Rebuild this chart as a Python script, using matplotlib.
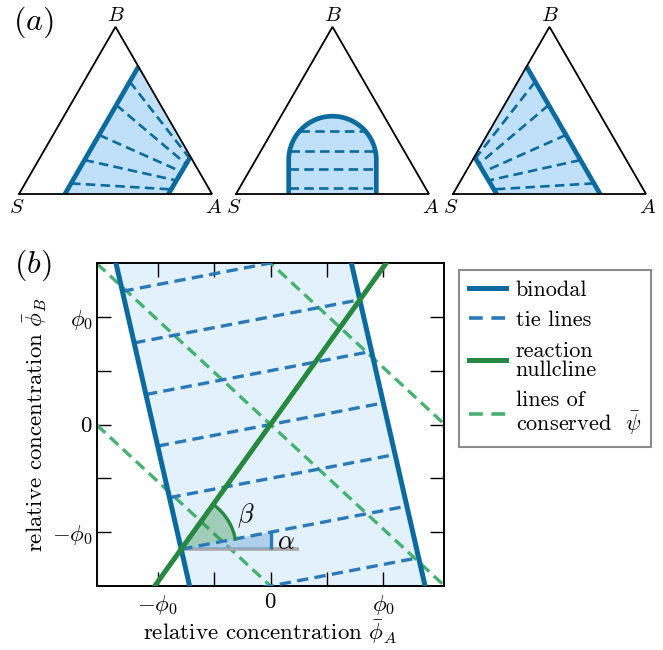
import numpy as np
import matplotlib
matplotlib.use("Agg")
import matplotlib.pyplot as plt
from matplotlib.lines import Line2D
from matplotlib.patches import Polygon

plt.rcParams.update({
    "font.family": "serif",
    "font.serif": ["cmr10"],
    "mathtext.fontset": "cm",
    "axes.unicode_minus": False,
    "axes.formatter.use_mathtext": True,
})

# ---------------- colours ----------------
C_BINODAL = "#0b6a9e"
C_TIE = "#2a79b8"
C_NULL = "#27893f"
C_PSI = "#46b271"
C_FILL_A = "#c0e0fa"
C_FILL_B = "#e3f1fc"

# ---------------- panel (a): ternary sketches ----------------
# binodal branches: (u on base, v where the branch meets the triangle's right edge)
tri1_left_branch = (0.238, 0.66)
tri1_right_branch = (0.774, 0.193)
# heights (v) of tie-line end points on each branch
tri1_tie_vL = [0.055, 0.176, 0.306, 0.461, 0.582]
tri1_tie_vR = [0.024, 0.070, 0.115, 0.155, 0.185]

# dome-shaped binodal in the middle sketch
dome_center = 0.5
dome_halfwidth = 0.227
dome_wall = 0.176
dome_ties = [0.03, 0.128, 0.223, 0.326]

# ---------------- panel (b): linearised phase diagram ----------------
binodal_offset = 1.045      # x-intercept of the two binodals
binodal_tilt = 0.218        # dx/dy of the binodals
tie_slope = 0.20            # tan(alpha)
tie_intercepts = [-1.5, -1.0, -0.5, 0.0, 0.5, 1.0, 1.5]
null_slope = 1.46           # reaction nullcline through the origin
psi_slope = -0.97
psi_intercepts = [-1.5, 0.0, 1.5]
tick_vals = [-1.0, -0.5, 0.0, 0.5, 1.0]
tick_text = [r"$-\phi_0$", "", r"$0$", "", r"$\phi_0$"]
XLIM = (-1.54, 1.54)
YLIM = (-1.5, 1.5)

FS = 16.5
W, H = 663, 650
fig = plt.figure(figsize=(W / 100, H / 100), dpi=100)

SIDE = 193.0
BASE_Y = H - 194.0
SQ3 = np.sqrt(3.0)
TRI_DASH = (0, (3.6, 2.0))
B_DASH = (0, (3.4, 1.9))


def right_edge(v):
    return (1 - v / SQ3, v)


def tri_axes(s_x):
    ax = fig.add_axes([(s_x - 0.05 * SIDE) / W, (BASE_Y - 0.05 * SIDE) / H,
                       1.1 * SIDE / W, 0.95 * SIDE / H])
    ax.set_xlim(-0.05, 1.05)
    ax.set_ylim(-0.05, 0.9)
    ax.axis("off")
    return ax


def draw_frame(ax):
    ax.plot([0, 1, 0.5, 0], [0, 0, SQ3 / 2, 0], color="black", lw=1.3,
            zorder=5, solid_joinstyle="miter")
    kw = dict(fontsize=15, ha="center", va="center")
    ax.text(-0.01, -0.075, r"$S$", **kw)
    ax.text(1.01, -0.075, r"$A$", **kw)
    ax.text(0.5, SQ3 / 2 + 0.055, r"$B$", **kw)


def on_branch(p0, p1, v):
    f = v / p1[1]
    return (p0[0] + (p1[0] - p0[0]) * f, v)


def fan_diagram(ax, left_branch, right_branch, vL, vR, mirror=False):
    m = (lambda p: (1 - p[0], p[1])) if mirror else (lambda p: p)
    a0 = (left_branch[0], 0.0)
    a1 = right_edge(left_branch[1])
    b0 = (right_branch[0], 0.0)
    b1 = right_edge(right_branch[1])
    poly = [m(a0), m(a1), m(b1), m(b0)]
    ax.add_patch(Polygon(poly, closed=True, facecolor=C_FILL_A,
                         edgecolor="none", zorder=1))
    for p, q in [(a0, a1), (b0, b1)]:
        p, q = m(p), m(q)
        ax.plot([p[0], q[0]], [p[1], q[1]], color=C_BINODAL, lw=3.4,
                solid_capstyle="butt", zorder=4)
    for vl, vr in zip(vL, vR):
        p = m(on_branch(a0, a1, vl))
        q = m(on_branch(b0, b1, vr))
        ax.plot([p[0], q[0]], [p[1], q[1]], color=C_BINODAL, lw=1.9,
                ls=TRI_DASH, zorder=3)


ax1 = tri_axes(19)
draw_frame(ax1)
fan_diagram(ax1, tri1_left_branch, tri1_right_branch, tri1_tie_vL, tri1_tie_vR)

ax3 = tri_axes(453)
draw_frame(ax3)
fan_diagram(ax3, tri1_left_branch, tri1_right_branch, tri1_tie_vL, tri1_tie_vR,
            mirror=True)

ax2 = tri_axes(236)
draw_frame(ax2)
th = np.linspace(np.pi, 0, 100)
dome_u = np.concatenate([[dome_center - dome_halfwidth],
                         dome_center + dome_halfwidth * np.cos(th),
                         [dome_center + dome_halfwidth]])
dome_v = np.concatenate([[0.0], dome_wall + dome_halfwidth * np.sin(th), [0.0]])
ax2.fill(dome_u, dome_v, color=C_FILL_A, zorder=1)
ax2.plot(dome_u, dome_v, color=C_BINODAL, lw=3.4, zorder=4,
         solid_capstyle="butt")
for v in dome_ties:
    if v <= dome_wall:
        hw = dome_halfwidth
    else:
        hw = np.sqrt(dome_halfwidth ** 2 - (v - dome_wall) ** 2)
    ax2.plot([dome_center - hw, dome_center + hw], [v, v], color=C_BINODAL,
             lw=1.9, ls=TRI_DASH, zorder=3)

fig.text(33 / W, 1 - 22 / H, r"$(a)$", fontsize=23, ha="center", va="center")
fig.text(33 / W, 1 - 265 / H, r"$(b)$", fontsize=23, ha="center", va="center")

# ---------------- panel (b) ----------------
ax = fig.add_axes([97 / W, (H - 586) / H, (444 - 97) / W, (586 - 263) / H])
ax.set_xlim(*XLIM)
ax.set_ylim(*YLIM)


def binodal_x(y, side):
    return side * binodal_offset - binodal_tilt * y


yy = np.linspace(YLIM[0], YLIM[1], 50)
ax.fill_betweenx(yy, binodal_x(yy, -1), binodal_x(yy, 1), color=C_FILL_B,
                 lw=0, zorder=0)

xx = np.linspace(XLIM[0], XLIM[1], 50)
for b in psi_intercepts:
    ax.plot(xx, b + psi_slope * xx, color=C_PSI, lw=2.4, ls=B_DASH, zorder=2)

for b in tie_intercepts:
    xs = np.array([(s * binodal_offset - binodal_tilt * b)
                   / (1 + binodal_tilt * tie_slope) for s in (-1, 1)])
    ax.plot(xs, b + tie_slope * xs, color=C_TIE, lw=2.4, ls=B_DASH, zorder=3)

for s in (-1, 1):
    ax.plot(binodal_x(yy, s), yy, color=C_BINODAL, lw=3.6, zorder=4)

ax.plot(xx, null_slope * xx, color=C_NULL, lw=3.6, zorder=5)

# angle annotations at the lower-left junction
b0 = -1.0
x0 = (-binodal_offset - binodal_tilt * b0) / (1 + binodal_tilt * tie_slope)
y0 = b0 + tie_slope * x0
ax.plot([x0, 0.25], [y0, y0], color="#a8a8a8", lw=2.6, zorder=2.5,
        solid_capstyle="butt")
ax.add_patch(Polygon([(x0, y0), (0, y0), (0, b0)], closed=True,
                     facecolor="#6fa9d8", alpha=0.45, edgecolor="none",
                     zorder=2.6))
ax.plot([0, 0], [y0, b0], color=C_TIE, lw=2.4, zorder=3, solid_capstyle="butt")

pos = ax.get_position()
sx = pos.width * W / (XLIM[1] - XLIM[0])
sy = pos.height * H / (YLIM[1] - YLIM[0])
t1 = np.arctan2(tie_slope * sy, sx)
t2 = np.arctan2(null_slope * sy, sx)
r_px = 55.0
tt = np.linspace(t1, t2, 60)
arc_x = x0 + r_px * np.cos(tt) / sx
arc_y = y0 + r_px * np.sin(tt) / sy
ax.add_patch(Polygon(np.column_stack([np.r_[x0, arc_x], np.r_[y0, arc_y]]),
                     closed=True, facecolor=C_NULL, alpha=0.35,
                     edgecolor="none", zorder=2.7))
ax.plot(arc_x, arc_y, color=C_NULL, lw=2.4, zorder=5)
ax.text(-0.22, -0.85, r"$\beta$", fontsize=19, ha="center", va="center")
ax.text(0.14, -1.095, r"$\alpha$", fontsize=19, ha="center", va="center")

ax.set_xticks(tick_vals)
ax.set_xticklabels(tick_text)
ax.set_yticks(tick_vals)
ax.set_yticklabels(tick_text)
ax.tick_params(direction="in", length=10, width=1.0, top=True, right=True,
               labelsize=FS)
ax.tick_params(axis="x", pad=5)
ax.tick_params(axis="y", pad=3)
for sp in ax.spines.values():
    sp.set_linewidth(1.4)
ax.set_xlabel(r"relative concentration $\bar{\phi}_A$", fontsize=FS,
              labelpad=1)
ax.set_ylabel(r"relative concentration $\bar{\phi}_B$", fontsize=FS,
              labelpad=2)

handles = [
    Line2D([], [], color=C_BINODAL, lw=3.6),
    Line2D([], [], color=C_TIE, lw=2.6, ls=(0, (3.8, 2.4))),
    Line2D([], [], color=C_NULL, lw=3.6),
    Line2D([], [], color=C_PSI, lw=2.6, ls=(0, (3.8, 2.4))),
]
labels = ["binodal", "tie lines", "reaction\nnullcline",
          "lines of\nconserved  $\\bar{\\psi}$"]
leg = fig.legend(handles, labels, loc="upper left",
                 bbox_to_anchor=(459 / W, 1 - 270 / H), fontsize=16,
                 fancybox=False, edgecolor="#8c8c8c", framealpha=1,
                 handlelength=1.65, handletextpad=0.45, labelspacing=0.5,
                 borderpad=0.45, borderaxespad=0)
leg.get_frame().set_linewidth(1.5)
for t in leg.get_texts():
    t.set_linespacing(0.95)

fig.savefig("out.png", dpi=100)
